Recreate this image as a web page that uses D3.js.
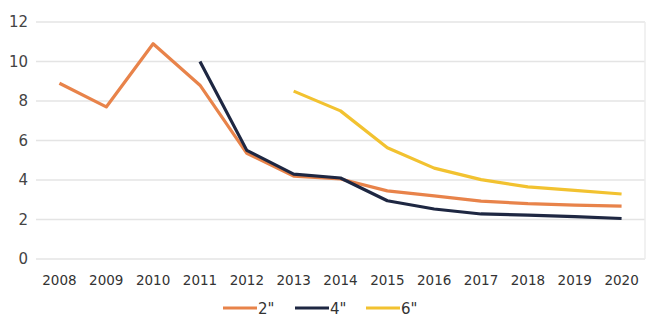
<!DOCTYPE html>
<html><head><meta charset="utf-8">
<script src="https://cdn.jsdelivr.net/npm/d3@7"></script>
<style>body{margin:0;background:#fff}svg{display:block}</style>
</head><body><svg id="c" width="668" height="331"></svg>
<script>
const years = ["2008","2009","2010","2011","2012","2013","2014","2015","2016","2017","2018","2019","2020"];
const s2 = [8.9, 7.7, 10.9, 8.8, 5.35, 4.2, 4.05, 3.45, 3.2, 2.93, 2.8, 2.73, 2.68];
const s4 = [null, null, null, 10.0, 5.5, 4.3, 4.1, 2.95, 2.53, 2.28, 2.22, 2.15, 2.05];
const s6 = [null, null, null, null, null, 8.5, 7.5, 5.63, 4.6, 4.02, 3.65, 3.47, 3.29];
const seriesNames = ['2"', '4"', '6"'];
const seriesColors = ["#E8834A", "#1E2742", "#F2C230"];
const yTicks = [0, 2, 4, 6, 8, 10, 12];

const svg = d3.select("#c");
const L = 36, R = 645, T = 22, B = 259;
const x = d3.scaleBand().domain(years).range([L, R]);
const y = d3.scaleLinear().domain([0, 12]).range([B, T]);
const font = "DejaVu Sans, Verdana, sans-serif";

// gridlines
svg.append("g").selectAll("line").data(yTicks).join("line")
  .attr("x1", L).attr("x2", R).attr("y1", d => y(d)).attr("y2", d => y(d))
  .attr("stroke", "#e4e4e4").attr("stroke-width", 1.5);
svg.append("line").attr("x1", R).attr("x2", R).attr("y1", T).attr("y2", B)
  .attr("stroke", "#ececec").attr("stroke-width", 1.5);

// y axis
const ya = svg.append("g").attr("transform", `translate(${L},0)`)
  .call(d3.axisLeft(y).tickValues(yTicks).tickSize(0).tickPadding(8));
ya.select(".domain").remove();
ya.selectAll("text").attr("font-family", font).attr("font-size", 15).attr("fill", "#444");

// x axis
const xa = svg.append("g").attr("transform", `translate(0,${B})`)
  .call(d3.axisBottom(x).tickSize(0).tickPadding(16));
xa.select(".domain").remove();
xa.selectAll("text").attr("font-family", font).attr("font-size", 13.5).attr("fill", "#333");

const line = d3.line().defined(d => d != null)
  .x((d, i) => x(years[i]) + x.bandwidth() / 2).y(d => y(d));

[s2, s4, s6].forEach((s, k) => {
  svg.append("path").datum(s).attr("d", line)
    .attr("fill", "none").attr("stroke", seriesColors[k]).attr("stroke-width", 3.2)
    .attr("stroke-linejoin", "round");
});

// legend
const legX = [223, 295, 366];
const lg = svg.append("g");
seriesNames.forEach((n, k) => {
  lg.append("line").attr("x1", legX[k]).attr("x2", legX[k] + 34).attr("y1", 308).attr("y2", 308)
    .attr("stroke", seriesColors[k]).attr("stroke-width", 3.2);
  lg.append("text").attr("x", legX[k] + 35).attr("y", 314).text(n)
    .attr("font-family", font).attr("font-size", 15).attr("fill", "#333");
});
</script></body></html>
